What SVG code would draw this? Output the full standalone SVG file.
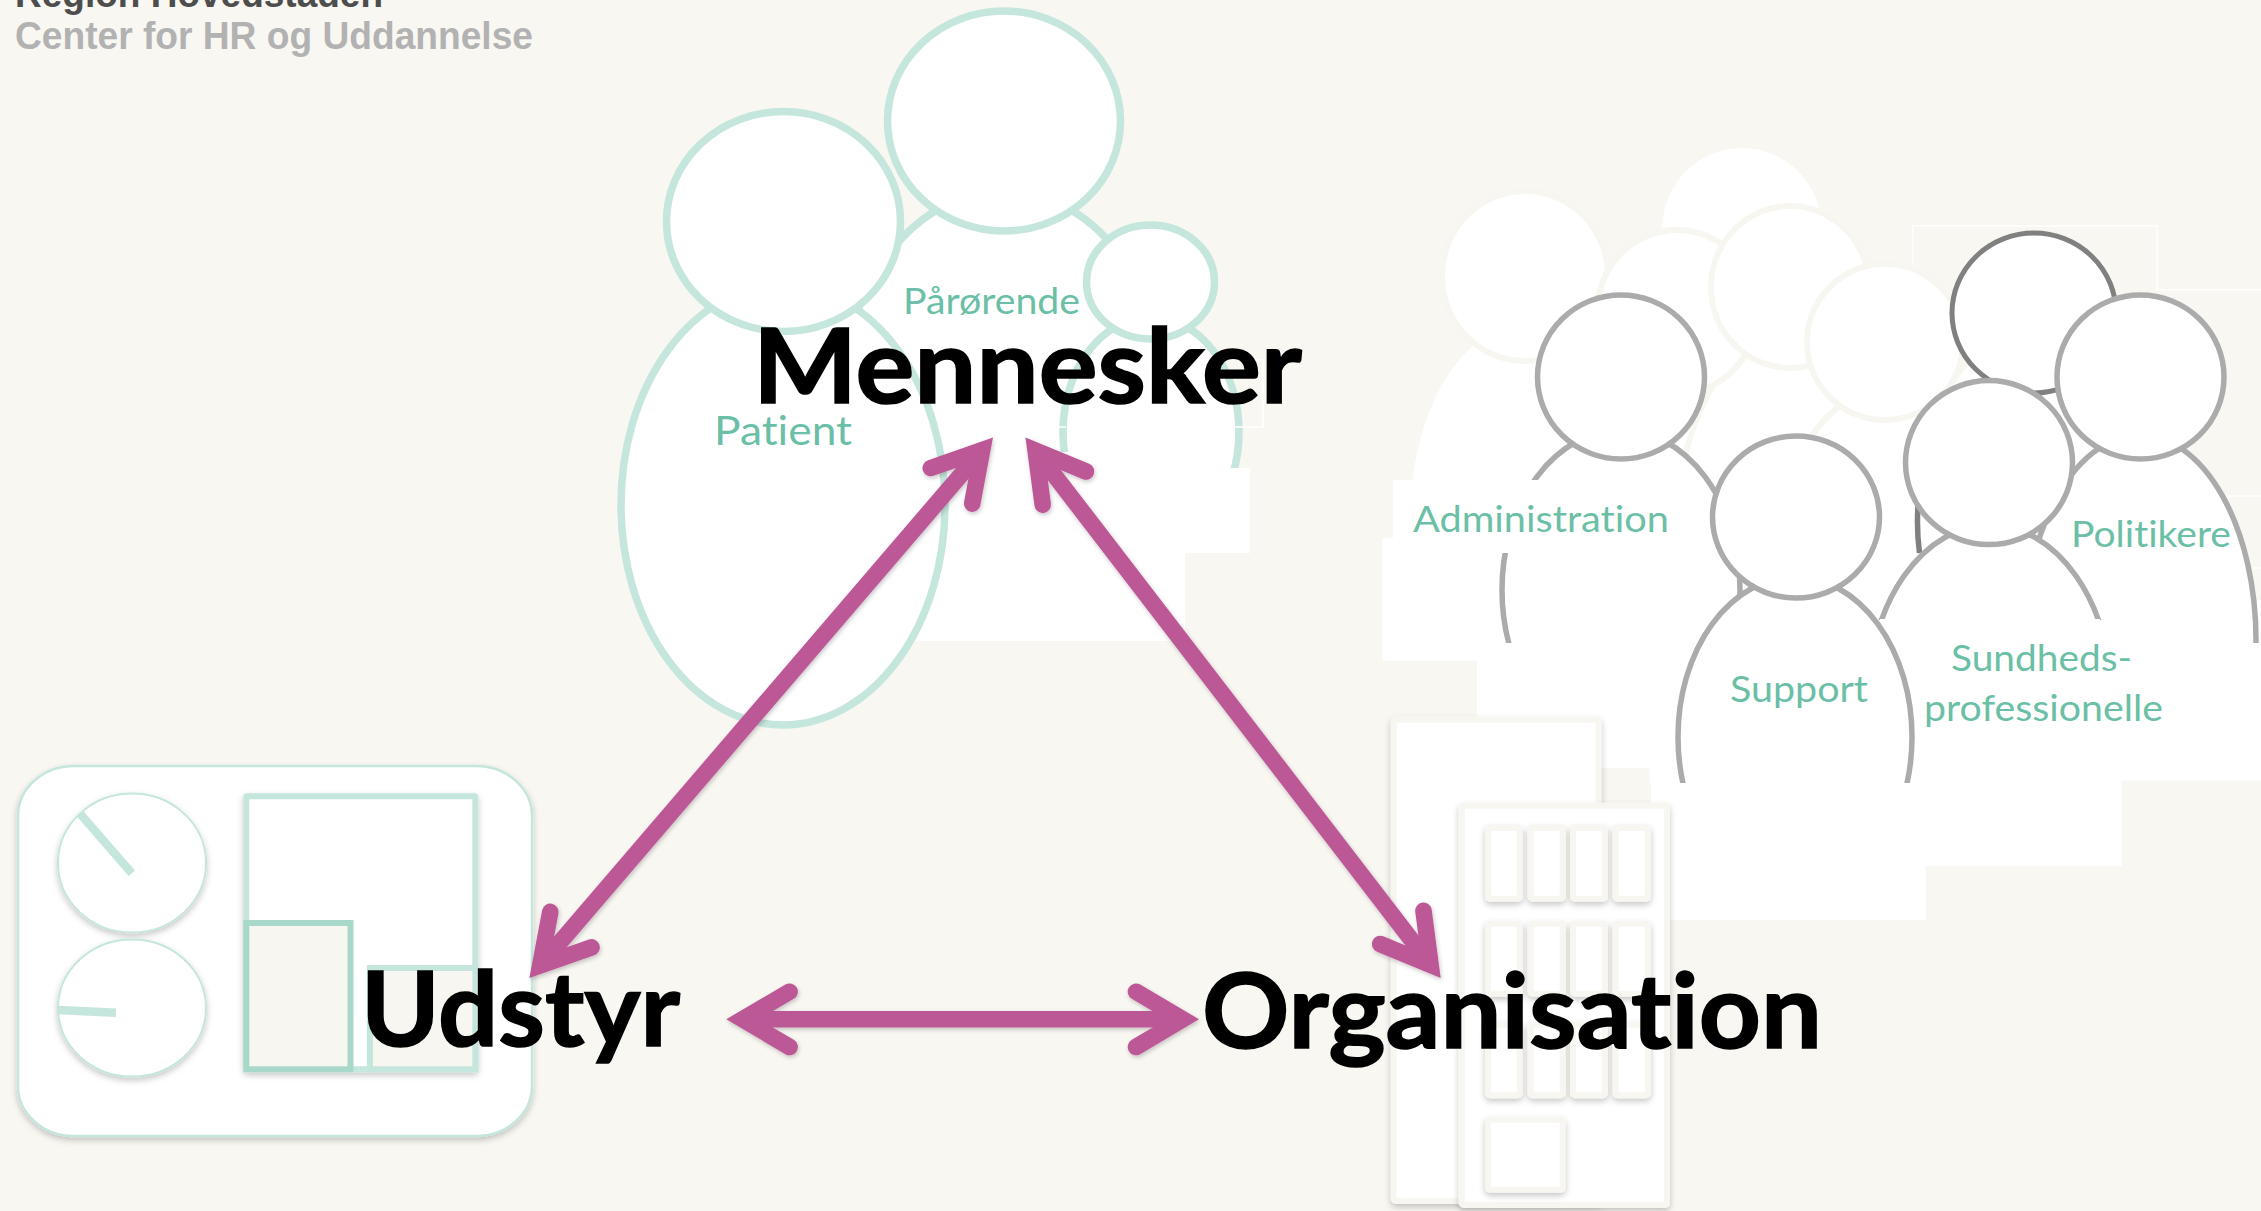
<svg xmlns="http://www.w3.org/2000/svg" width="2261" height="1211" viewBox="0 0 2261 1211">
<defs>
<filter id="sh" x="-20%" y="-20%" width="140%" height="140%"><feDropShadow dx="0" dy="3" stdDeviation="3" flood-color="#000" flood-opacity="0.22"/></filter>
<filter id="shA" filterUnits="userSpaceOnUse" x="0" y="0" width="2261" height="1211"><feDropShadow dx="1" dy="2" stdDeviation="2" flood-color="#000" flood-opacity="0.22"/></filter>
<clipPath id="c560"><rect x="1300" y="0" width="961" height="560"/></clipPath>
<clipPath id="c643"><rect x="1300" y="0" width="961" height="643"/></clipPath>
<clipPath id="c620"><rect x="1300" y="0" width="961" height="620"/></clipPath>
<clipPath id="c783"><rect x="1300" y="0" width="961" height="783"/></clipPath>
</defs>
<style>
.mint{fill:#fff;stroke:#c4e6dc;stroke-width:7.5}
.w{fill:#fff}
.lite{fill:#fff;stroke:#f7f6f1;stroke-width:6}
.gray{fill:#fff;stroke:#ababab;stroke-width:5.5}
.thin{fill:none;stroke:#fff;stroke-width:1.5}
.lbl{font-family:Lato,"Open Sans",sans-serif;fill:#6bbfa6;font-size:37px;font-variant-ligatures:none}
.big{font-family:Lato,"Open Sans",sans-serif;font-weight:700;fill:#000;stroke:#000;stroke-width:1.6;font-size:104px;font-variant-ligatures:none}
.hd{font-family:"Liberation Sans",Arial,sans-serif;font-weight:700;font-size:38.6px}
.panel{fill:#fff;stroke:#c4e6dc;stroke-width:2.5}
.bld{fill:#fff;stroke:#f7f6f1;stroke-width:6}
.arr{fill:none;stroke:#bd5897;stroke-width:16.6;stroke-linecap:round;stroke-linejoin:miter;stroke-miterlimit:10}
.shaft{fill:none;stroke:#bd5897;stroke-width:16.6}
</style>
<rect width="2261" height="1211" fill="#f8f7f2"/>

<g id="header">
<text class="hd" x="15" y="7" fill="#4d4d4d" textLength="368" lengthAdjust="spacingAndGlyphs">Region Hovedstaden</text>
<text class="hd" x="15" y="49" fill="#b2b2b2" textLength="518" lengthAdjust="spacingAndGlyphs">Center for HR og Uddannelse</text>
</g>

<g id="mennesker-group">
<ellipse class="mint" cx="1004" cy="402" rx="162" ry="211"/>
<ellipse class="mint" cx="1004" cy="121" rx="116.500" ry="110"/>
<rect class="w" x="880" y="440" width="305" height="201"/>
<ellipse class="mint" cx="1151" cy="432" rx="88" ry="115"/>
<rect class="w" x="1050" y="452" width="60" height="30"/>
<rect class="w" x="1060" y="468" width="190" height="85"/>
<ellipse class="mint" cx="1150.500" cy="282" rx="64" ry="57"/>
<path class="thin" d="M1243,360H1263V427H1234M1058,427H1066"/>
<ellipse class="mint" cx="783" cy="505" rx="162" ry="220"/>
<ellipse class="mint" cx="783.500" cy="221.500" rx="117" ry="110"/>
<text class="lbl" x="903" y="314" textLength="177" lengthAdjust="spacingAndGlyphs">Pårørende</text>
<text class="lbl" x="714" y="444.500" style="font-size:40px" textLength="138" lengthAdjust="spacingAndGlyphs">Patient</text>
</g>

<g id="stakeholders-group">
<ellipse class="w" cx="1742" cy="230" rx="80" ry="82"/>
<g clip-path="url(#c560)">
<ellipse class="w" cx="1525" cy="520" rx="115" ry="195"/>
<ellipse class="w" cx="1677" cy="530" rx="115" ry="210"/>
<ellipse class="lite" cx="1790" cy="540" rx="115" ry="207"/>
<ellipse class="lite" cx="1885" cy="590" rx="115" ry="200"/>
</g>
<rect class="w" x="1393" y="480" width="400" height="60"/>
<rect class="w" x="1382.500" y="538" width="400" height="122.600"/>
<rect class="w" x="1477" y="600" width="174" height="168"/>
<rect class="w" x="1651" y="540" width="289" height="243"/>
<rect class="w" x="1651" y="782.700" width="274.600" height="137.300"/>
<rect class="w" x="1920" y="600" width="201.700" height="266"/>
<rect class="w" x="2100" y="600" width="161" height="180.500"/>
<path class="thin" d="M1650,768V782H1660"/>
<ellipse class="lite" cx="1525" cy="276" rx="83" ry="85"/>
<ellipse class="lite" cx="1677" cy="312" rx="80" ry="82"/>
<ellipse class="lite" cx="1790" cy="287" rx="79" ry="81"/>
<ellipse class="lite" cx="1885" cy="342" rx="78" ry="78"/>
<path class="thin" d="M1912.600,265V226H2157V290H2261M2228,496H2261M2252,568H2261"/>
<ellipse class="w" cx="2034" cy="530" rx="116" ry="200" clip-path="url(#c560)"/>
<path d="M1918.500,500Q1916,527 1919.500,553" fill="none" stroke="#808080" stroke-width="5.500"/>
<ellipse cx="2034" cy="313" rx="82" ry="80" fill="#fff" stroke="#808080" stroke-width="5"/>

<ellipse class="gray" cx="2140" cy="640" rx="116" ry="205" clip-path="url(#c643)"/>
<ellipse class="gray" cx="2140.500" cy="377" rx="83.500" ry="82"/>

<ellipse class="gray" cx="1621" cy="590" rx="119" ry="160" clip-path="url(#c643)"/>
<rect class="w" x="1393" y="480" width="150" height="73"/>
<ellipse class="gray" cx="1621" cy="377" rx="83.500" ry="82"/>

<ellipse class="gray" cx="1990" cy="700" rx="122" ry="175" clip-path="url(#c620)"/>
<rect class="w" x="1880" y="619" width="220" height="30"/>
<ellipse class="gray" cx="1989" cy="462.600" rx="83.500" ry="82"/>

<ellipse class="gray" cx="1795" cy="737" rx="117" ry="160" clip-path="url(#c783)"/>
<ellipse class="gray" cx="1796" cy="517" rx="83.500" ry="81"/>

<text class="lbl" x="1413" y="531.500" textLength="256" lengthAdjust="spacingAndGlyphs">Administration</text>
<text class="lbl" x="2071" y="546.800" textLength="160" lengthAdjust="spacingAndGlyphs">Politikere</text>
<text class="lbl" x="1730" y="702" textLength="138" lengthAdjust="spacingAndGlyphs">Support</text>
<text class="lbl" x="1951" y="670.800" textLength="181" lengthAdjust="spacingAndGlyphs">Sundheds-</text>
<text class="lbl" x="1924" y="720.800" textLength="239" lengthAdjust="spacingAndGlyphs">professionelle</text>
</g>

<g id="organisation-building">
<rect class="bld" x="1393.700" y="719.700" width="205" height="481.300" rx="2" filter="url(#sh)"/>
<rect class="bld" x="1461.700" y="805.700" width="205.300" height="399.300" rx="2" filter="url(#sh)"/>
<g filter="url(#sh)">
<rect class="bld" x="1488" y="828" width="31.700" height="70.700" rx="2"/>
<rect class="bld" x="1530.700" y="828" width="32" height="70.700" rx="2"/>
<rect class="bld" x="1573" y="828" width="32" height="70.700" rx="2"/>
<rect class="bld" x="1615.700" y="828" width="32.300" height="70.700" rx="2"/>
<rect class="bld" x="1488" y="923.700" width="31.700" height="70" rx="2"/>
<rect class="bld" x="1530.700" y="923.700" width="32" height="70" rx="2"/>
<rect class="bld" x="1573" y="923.700" width="32" height="70" rx="2"/>
<rect class="bld" x="1615.700" y="923.700" width="32.300" height="70" rx="2"/>
<rect class="bld" x="1488" y="1024.700" width="31.700" height="70.600" rx="2"/>
<rect class="bld" x="1530.700" y="1024.700" width="32" height="70.600" rx="2"/>
<rect class="bld" x="1573" y="1024.700" width="32" height="70.600" rx="2"/>
<rect class="bld" x="1615.700" y="1024.700" width="32.300" height="70.600" rx="2"/>
<rect class="bld" x="1488" y="1119.700" width="74.700" height="70" rx="2"/>
</g>
</g>

<g id="udstyr-panel">
<rect class="panel" x="18" y="766" width="514" height="370" rx="56" ry="50" filter="url(#sh)"/>
<ellipse cx="132" cy="863" rx="74" ry="69.500" fill="#fff" stroke="#c4e6dc" stroke-width="2" filter="url(#sh)"/>
<ellipse cx="132" cy="1008" rx="74" ry="68.500" fill="#fff" stroke="#c4e6dc" stroke-width="2" filter="url(#sh)"/>
<path d="M80.300,814L131.800,873.300" fill="none" stroke="#c4e6dc" stroke-width="8.500"/>
<path d="M57.400,1010L116,1012.700" fill="none" stroke="#c4e6dc" stroke-width="8.500"/>
<rect x="246.300" y="796.300" width="229" height="273" rx="1" fill="#fff" stroke="#c4e6dc" stroke-width="6" filter="url(#sh)"/>
<rect x="246.300" y="923" width="104.200" height="146.300" fill="#f7f6f1" stroke="#a7d8c9" stroke-width="6"/>
<rect x="369.900" y="968" width="105.500" height="101.300" fill="#f7f6f1" stroke="#c4e6dc" stroke-width="6"/>
</g>

<g id="connectors">
<g filter="url(#shA)">
<path class="shaft" d="M982.200,450.100L540.200,965.400"/>
<path class="arr" d="M930.800,468L982.200,450.100L972.200,503.600"/>
<path class="arr" d="M591.600,947.400L540.200,965.400L550.300,911.900"/>
</g>
<g filter="url(#shA)">
<path class="shaft" d="M1035.600,450.700L1430.600,964.800"/>
<path class="arr" d="M1086,471.500L1035.600,450.700L1042.700,504.700"/>
<path class="arr" d="M1380.200,944L1430.600,964.800L1423.500,910.800"/>
</g>
<g filter="url(#shA)">
<path class="shaft" d="M742.600,1019.300H1182.700"/>
<path class="arr" d="M789.600,991.700L742.600,1019.300L789.600,1047"/>
<path class="arr" d="M1136,991.700L1182.700,1019.300L1136,1047"/>
</g>
</g>

<g id="labels">
<text class="big" x="753" y="402.500" textLength="549" lengthAdjust="spacingAndGlyphs">Mennesker</text>
<text class="big" x="361" y="1045.700" textLength="319" lengthAdjust="spacingAndGlyphs">Udstyr</text>
<text class="big" x="1202" y="1048" textLength="620" lengthAdjust="spacingAndGlyphs">Organisation</text>
</g>
</svg>
